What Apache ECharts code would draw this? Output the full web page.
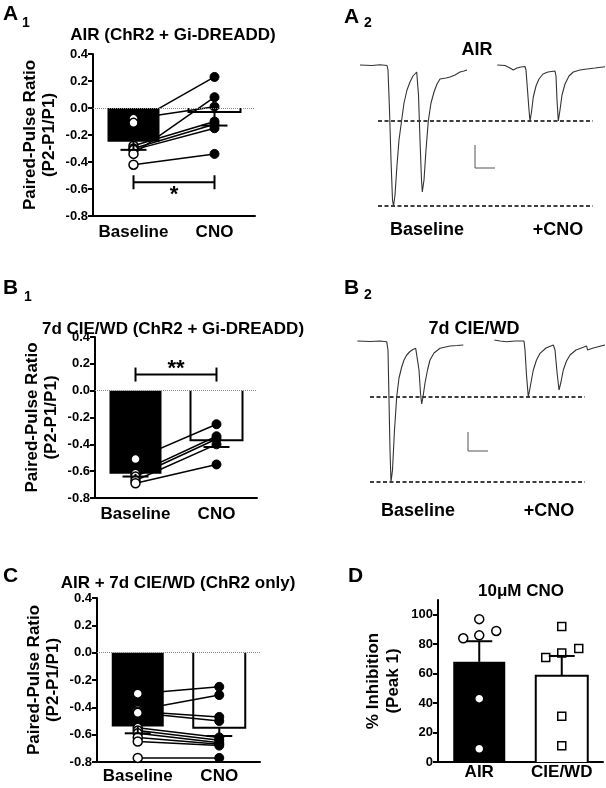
<!DOCTYPE html>
<html><head><meta charset="utf-8">
<script src="https://cdn.jsdelivr.net/npm/echarts@6/dist/echarts.min.js"></script>
<style>html,body{margin:0;padding:0;background:#fff}#c{width:606px;height:788px}</style>
</head><body><div id="c"></div>
<script>
// ================= DATA =================
const pprCategories = ['Baseline', 'CNO'];
const dCategories = ['AIR', 'CIE/WD'];

// A1: AIR (ChR2 + Gi-DREADD) paired-pulse ratio
const a1Baseline = [-0.08, -0.11, -0.28, -0.30, -0.31, -0.34, -0.42];
const a1Cno      = [ 0.01,  0.23, -0.10, -0.12, -0.15,  0.08, -0.34];
const a1Means    = [-0.25, -0.03];
const a1SemEnds  = [-0.31, -0.13];
const a1Sig      = [0, 1, -0.55];
const a1SigLabel = '*';

// B1: 7d CIE/WD (ChR2 + Gi-DREADD)
const b1Baseline = [-0.51, -0.62, -0.64, -0.67, -0.69];
const b1Cno      = [-0.25, -0.34, -0.36, -0.40, -0.55];
const b1Means    = [-0.62, -0.37];
const b1SemEnds  = [-0.64, -0.42];
const b1Sig      = [0, 1, 0.12];
const b1SigLabel = '**';

// C: AIR + 7d CIE/WD (ChR2 only)
const cBaseline = [-0.30, -0.42, -0.43, -0.44, -0.55, -0.57, -0.59, -0.62, -0.65, -0.77];
const cCno      = [-0.25, -0.31, -0.47, -0.50, -0.62, -0.64, -0.66, -0.67, -0.68, -0.77];
const cMeans    = [-0.54, -0.55];
const cSemEnds  = [-0.59, -0.61];

// D: 10uM CNO, % inhibition (peak 1)
const dAir      = [97, 84, 86, 89, 43, 9];
const dCie      = [92, 71, 74, 77, 31, 11];
const dMeans    = [68, 58.5];
const dSemEnds  = [82, 72];
const dTicks    = [0, 20, 40, 60, 80, 100];

// A2 traces (time, current; arbitrary units)
const a2Baseline = [[5,0],[17,-0.5],[25,0.2],[32,-0.5],[33,-5],[34.5,-45],[36,-95],[37.5,-135],[38.5,-141],[40,-130],[42,-100],[44,-75],[46.7,-55],[49,-38],[52,-25],[55,-17],[58,-11],[61.7,-7],[62.5,-9],[63.5,-30],[65,-75],[66.5,-115],[67.3,-127],[69,-115],[71,-85],[73.3,-56],[76,-38],[79,-27],[82,-19],[85,-14],[87,-12],[91,-13],[95,-12],[100,-10],[105,-7],[109,-6],[112,-5]];
const a2Cno = [[142.3,0],[150,-0.5],[155,-3],[158.3,-5],[162,-3],[166,-2],[170,-1.5],[171,-5],[172.5,-25],[174,-45],[175,-56],[176.5,-47],[178.3,-32],[181,-21],[184,-14],[188,-9],[193,-7],[200,-6],[201,-11],[202,-35],[203.3,-56],[205,-45],[207,-30],[210,-19],[214,-11],[218.3,-7],[225,-5],[232,-4],[240,-3],[250,-1.7]];
const a2PeakLevels = [-56, -141];
const a2PeakSpan = [23, 238];
const a2ScaleBar = [[120,-80],[120,-103],[140,-103]];

// B2 traces
const b2Baseline = [[2.3,0],[15,-0.5],[25,0],[31.7,-0.7],[33,-9],[34,-59],[35,-109],[36,-141],[37.5,-129],[39.5,-89],[41.7,-56],[44,-37],[46.7,-26],[49,-19],[51.7,-14],[55,-10.5],[58,-8.5],[60.7,-7.3],[62,-9],[64,-29],[65.5,-52],[66.7,-63],[68,-56],[70,-42],[72.5,-29],[75,-19],[79,-12],[85,-7.3],[95,-5],[102,-4.5],[108.3,-4]];
const b2Cno = [[139.3,1],[145,0],[151.7,-0.7],[160,0],[169,0],[170,-9],[171.5,-34],[173.3,-56],[175,-47],[178.3,-29],[181.5,-19],[185,-12.3],[191,-7],[198.3,-4],[200,-9],[202,-31],[204,-49],[206,-41],[208.3,-29],[211.5,-20],[215,-14],[221,-9],[228.3,-6.3],[231.7,-5],[232.5,-9],[234,-7],[238.3,-7],[244,-5.5],[250,-4]];
const b2PeakLevels = [-56, -141];
const b2PeakSpan = [15, 230];
const b2ScaleBar = [[113,-91],[113,-110],[133,-110]];

// ================= STYLE / LAYOUT =================
const FONT = "'Liberation Sans', Arial, Helvetica, sans-serif";
const BAR_W = 52;
const CAP_W = 26;
const dJitterPx = [0, -16, 0, 17, 0, 0];

function barItem(open) {
  return function (params, api) {
    const x = api.value(0), v = api.value(1);
    const p0 = api.coord([x, 0]), p1 = api.coord([x, v]);
    const xl = p0[0] - BAR_W / 2, xr = p0[0] + BAR_W / 2;
    const yTop = Math.min(p0[1], p1[1]), h = Math.abs(p1[1] - p0[1]);
    if (!open) return { type: 'rect', shape: { x: xl, y: yTop, width: BAR_W, height: h }, style: { fill: '#000' } };
    return { type: 'group', children: [
      { type: 'rect', shape: { x: xl, y: yTop, width: BAR_W, height: h }, style: { fill: '#fff' } },
      { type: 'polyline', shape: { points: [[xl, p0[1]], [xl, p1[1]], [xr, p1[1]], [xr, p0[1]]] }, style: { stroke: '#000', lineWidth: 2, fill: null } }
    ]};
  };
}
function errItem(params, api) {
  const x = api.value(0);
  const pm = api.coord([x, api.value(1)]), pe = api.coord([x, api.value(2)]);
  return { type: 'group', children: [
    { type: 'line', shape: { x1: pm[0], y1: pm[1], x2: pe[0], y2: pe[1] }, style: { stroke: '#000', lineWidth: 2 } },
    { type: 'line', shape: { x1: pe[0] - CAP_W / 2, y1: pe[1], x2: pe[0] + CAP_W / 2, y2: pe[1] }, style: { stroke: '#000', lineWidth: 2 } }
  ]};
}
function bracketItem(label, dy) {
  return function (params, api) {
    const a = api.coord([api.value(0), api.value(2)]), b = api.coord([api.value(1), api.value(2)]);
    const t = 7;
    return { type: 'group', children: [
      { type: 'line', shape: { x1: a[0], y1: a[1], x2: b[0], y2: b[1] }, style: { stroke: '#000', lineWidth: 2 } },
      { type: 'line', shape: { x1: a[0], y1: a[1] - t, x2: a[0], y2: a[1] + t }, style: { stroke: '#000', lineWidth: 2 } },
      { type: 'line', shape: { x1: b[0], y1: b[1] - t, x2: b[0], y2: b[1] + t }, style: { stroke: '#000', lineWidth: 2 } },
      { type: 'text', style: { text: label, x: (a[0] + b[0]) / 2, y: a[1] + dy, textAlign: 'center', align: 'center', textVerticalAlign: 'middle', verticalAlign: 'middle', font: 'bold 22px ' + FONT, fill: '#000' } }
    ]};
  };
}

const grids = [
  { left: 93, top: 54, width: 162, height: 162 },   // A1
  { left: 355, top: 55, width: 250, height: 160 },  // A2
  { left: 95, top: 337, width: 162, height: 161 },  // B1
  { left: 355, top: 331, width: 250, height: 160 }, // B2
  { left: 97, top: 598, width: 163, height: 164 },  // C
  { left: 438, top: 600, width: 165, height: 162 }  // D
];

function catX(gi, cats, margin) {
  return { type: 'category', gridIndex: gi, data: cats,
    axisLine: { onZero: false, lineStyle: { color: '#000', width: 2 } },
    axisTick: { alignWithLabel: true, interval: 0, length: 4, lineStyle: { color: '#000', width: 2 } },
    axisLabel: { interval: 0, hideOverlap: false, color: '#000', fontSize: 17, fontWeight: 'bold', fontFamily: FONT, margin: margin },
    splitLine: { show: false } };
}
function pprY(gi) {
  return { type: 'value', gridIndex: gi, min: -0.8, max: 0.4, interval: 0.2,
    name: 'Paired-Pulse Ratio\n(P2-P1/P1)', nameLocation: 'middle', nameGap: 34,
    nameTextStyle: { color: '#000', fontSize: 17, fontWeight: 'bold', fontFamily: FONT, lineHeight: 19 },
    axisLine: { show: true, onZero: false, lineStyle: { color: '#000', width: 2 } },
    axisTick: { show: true, length: 5, lineStyle: { color: '#000', width: 2 } },
    axisLabel: { color: '#000', fontSize: 13, fontWeight: 'bold', fontFamily: FONT, margin: 5, formatter: v => v.toFixed(1) },
    splitLine: { show: false } };
}
function hiddenX(gi) { return { type: 'value', gridIndex: gi, min: 0, max: 250, show: false }; }
function hiddenY(gi) { return { type: 'value', gridIndex: gi, min: -150, max: 10, show: false }; }

const zeroLine = { silent: true, symbol: 'none', label: { show: false },
  lineStyle: { type: 'dotted', color: '#888', width: 1 }, data: [{ yAxis: 0 }] };

function pprSeries(gi, base, cno, means, sems, sig, sigLabel, sigDy) {
  const s = [];
  s.push({ type: 'custom', xAxisIndex: gi, yAxisIndex: gi, renderItem: barItem(false), data: [[0, means[0]]], encode: { x: 0, y: 1 }, z: 2, silent: true });
  s.push({ type: 'custom', xAxisIndex: gi, yAxisIndex: gi, renderItem: barItem(true), data: [[1, means[1]]], encode: { x: 0, y: 1 }, z: 2, silent: true });
  for (let i = 0; i < base.length; i++) {
    s.push({ type: 'line', xAxisIndex: gi, yAxisIndex: gi, data: [base[i], cno[i]], showSymbol: false, symbol: 'none',
      lineStyle: { color: '#000', width: 1.5 }, z: 3, silent: true });
  }
  s.push({ type: 'scatter', xAxisIndex: gi, yAxisIndex: gi, data: base.map(v => [0, v]), symbol: 'circle', symbolSize: 9,
    itemStyle: { color: '#fff', borderColor: '#000', borderWidth: 1.5, opacity: 1 }, z: 4, silent: true, markLine: zeroLine });
  s.push({ type: 'scatter', xAxisIndex: gi, yAxisIndex: gi, data: cno.map(v => [1, v]), symbol: 'circle', symbolSize: 9,
    itemStyle: { color: '#000', borderColor: '#000', borderWidth: 1, opacity: 1 }, z: 4, silent: true });
  s.push({ type: 'custom', xAxisIndex: gi, yAxisIndex: gi, renderItem: errItem,
    data: [[0, means[0], sems[0]], [1, means[1], sems[1]]], encode: { x: 0, y: [1, 2] }, z: 5, silent: true });
  if (sig) {
    s.push({ type: 'custom', xAxisIndex: gi, yAxisIndex: gi, renderItem: bracketItem(sigLabel, sigDy),
      data: [sig], encode: { x: [0, 1], y: 2 }, z: 5, silent: true });
  }
  return s;
}

function traceSeries(gi, baseTrace, cnoTrace, levels, span, scaleBar) {
  const s = [];
  levels.forEach(l => s.push({ type: 'line', xAxisIndex: gi, yAxisIndex: gi, data: [[span[0], l], [span[1], l]], showSymbol: false, symbol: 'none',
    lineStyle: { color: '#000', width: 1.5, type: [4, 2.5] }, z: 2, silent: true }));
  [baseTrace, cnoTrace].forEach(t => s.push({ type: 'line', xAxisIndex: gi, yAxisIndex: gi, data: t, showSymbol: false, symbol: 'none',
    lineStyle: { color: '#333', width: 1.1 }, z: 3, silent: true }));
  s.push({ type: 'line', xAxisIndex: gi, yAxisIndex: gi, data: scaleBar, showSymbol: false, symbol: 'none',
    lineStyle: { color: '#555', width: 1 }, z: 3, silent: true });
  return s;
}

let series = [];
series = series.concat(pprSeries(0, a1Baseline, a1Cno, a1Means, a1SemEnds, a1Sig, a1SigLabel, 13));
series = series.concat(traceSeries(1, a2Baseline, a2Cno, a2PeakLevels, a2PeakSpan, a2ScaleBar));
series = series.concat(pprSeries(2, b1Baseline, b1Cno, b1Means, b1SemEnds, b1Sig, b1SigLabel, -6));
series = series.concat(traceSeries(3, b2Baseline, b2Cno, b2PeakLevels, b2PeakSpan, b2ScaleBar));
series = series.concat(pprSeries(4, cBaseline, cCno, cMeans, cSemEnds, null));

// D panel
series.push({ type: 'custom', xAxisIndex: 5, yAxisIndex: 5, renderItem: barItem(false), data: [[0, dMeans[0]]], encode: { x: 0, y: 1 }, z: 2, silent: true });
series.push({ type: 'custom', xAxisIndex: 5, yAxisIndex: 5, renderItem: barItem(true), data: [[1, dMeans[1]]], encode: { x: 0, y: 1 }, z: 2, silent: true });
series.push({ type: 'custom', xAxisIndex: 5, yAxisIndex: 5, renderItem: errItem,
  data: [[0, dMeans[0], dSemEnds[0]], [1, dMeans[1], dSemEnds[1]]], encode: { x: 0, y: [1, 2] }, z: 5, silent: true });
series.push({ type: 'scatter', xAxisIndex: 5, yAxisIndex: 5, symbol: 'circle', symbolSize: 9,
  data: dAir.map((v, i) => ({ value: [0, v], symbolOffset: [dJitterPx[i], 0] })),
  itemStyle: { color: '#fff', borderColor: '#000', borderWidth: 1.5, opacity: 1 }, z: 4, silent: true });
series.push({ type: 'scatter', xAxisIndex: 5, yAxisIndex: 5, symbol: 'rect', symbolSize: 8,
  data: dCie.map((v, i) => ({ value: [1, v], symbolOffset: [dJitterPx[i], 0] })),
  itemStyle: { color: '#fff', borderColor: '#000', borderWidth: 1.5, opacity: 1 }, z: 4, silent: true });

const xAxes = [catX(0, pprCategories, 8), hiddenX(1), catX(2, pprCategories, 8), hiddenX(3), catX(4, pprCategories, 6), catX(5, dCategories, 2)];
const yAxes = [pprY(0), hiddenY(1), pprY(2), hiddenY(3), pprY(4), {
  type: 'value', gridIndex: 5, min: 0, max: 110, interval: 20,
  name: '% Inhibition\n(Peak 1)', nameLocation: 'middle', nameGap: 35,
  nameTextStyle: { color: '#000', fontSize: 17, fontWeight: 'bold', fontFamily: FONT, lineHeight: 20 },
  axisLine: { show: true, lineStyle: { color: '#000', width: 2 } },
  axisTick: { show: true, length: 5, customValues: dTicks, lineStyle: { color: '#000', width: 2 } },
  axisLabel: { color: '#000', fontSize: 13, fontWeight: 'bold', fontFamily: FONT, margin: 5, customValues: dTicks },
  splitLine: { show: false } }];

function txt(x, y, text, size, align, weight) {
  return { type: 'text', x: x, y: y, silent: true,
    style: { text: text, font: (weight || 'bold') + ' ' + size + 'px ' + FONT, fill: '#000',
      textAlign: align || 'center', align: align || 'center', textVerticalAlign: 'middle', verticalAlign: 'middle' } };
}
const graphics = [
  txt(3, 14, 'A', 21, 'left'), txt(22, 23, '1', 14, 'left'),
  txt(344, 17, 'A', 21, 'left'), txt(364, 23, '2', 14, 'left'),
  txt(3, 288, 'B', 21, 'left'), txt(24, 297, '1', 14, 'left'),
  txt(344, 288, 'B', 21, 'left'), txt(364, 295, '2', 14, 'left'),
  txt(3, 576, 'C', 21, 'left'),
  txt(348, 576, 'D', 21, 'left'),
  txt(173, 35, 'AIR (ChR2 + Gi-DREADD)', 17),
  txt(173, 329, '7d CIE/WD (ChR2 + Gi-DREADD)', 17),
  txt(178, 583, 'AIR + 7d CIE/WD (ChR2 only)', 17),
  txt(521, 591, '10\u03BCM CNO', 17),
  txt(477, 50, 'AIR', 18),
  txt(474, 329, '7d CIE/WD', 18),
  txt(427, 230, 'Baseline', 18), txt(558, 230, '+CNO', 18),
  txt(418, 511, 'Baseline', 18), txt(549, 511, '+CNO', 18)
];

const chart = echarts.init(document.getElementById('c'), null, { renderer: 'canvas' });
chart.setOption({
  animation: false,
  backgroundColor: '#fff',
  grid: grids,
  xAxis: xAxes,
  yAxis: yAxes,
  series: series,
  graphic: graphics
});
</script>
</body></html>
